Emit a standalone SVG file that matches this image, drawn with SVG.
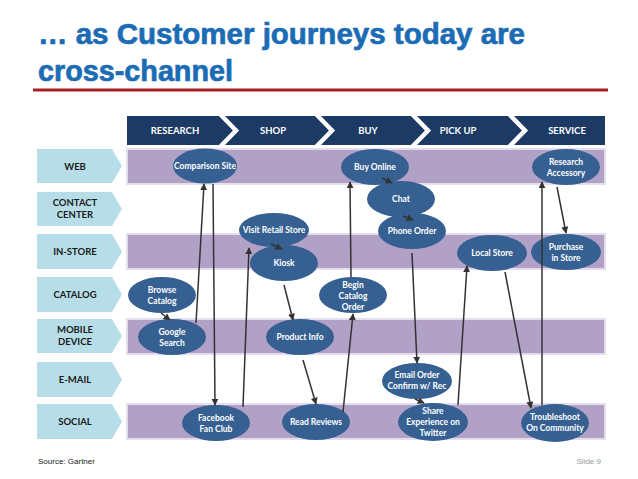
<svg xmlns="http://www.w3.org/2000/svg" width="638" height="479" viewBox="0 0 638 479">
<style>
.title{font-family:"Liberation Sans",Arial,sans-serif;font-weight:700;font-size:30px;fill:#1B6CB5;stroke:#1B6CB5;stroke-width:0.7}
.hdr{font-family:Lato,"Liberation Sans",sans-serif;font-weight:700;font-size:9.5px;fill:#fff;text-anchor:middle}
.lbl{fill:#B7DEE8}
.lbt{font-family:Lato,"Liberation Sans",sans-serif;font-weight:700;font-size:9.5px;fill:#1a1a1a;text-anchor:middle}
.band{fill:#B2A1C7;stroke:#E4DEEC;stroke-width:2}
.node ellipse{fill:#366092}
.node text{font-family:Lato,"Liberation Sans",sans-serif;font-weight:700;font-size:8.5px;fill:#fff;text-anchor:middle}
.conn line{stroke:#333;stroke-width:1.5;marker-end:url(#ah)}
.foot{font-family:"Liberation Sans",Arial,sans-serif;font-size:8px}
</style>
<defs>
<marker id="ah" viewBox="0 0 10 10" refX="9" refY="5" markerWidth="7" markerHeight="7" markerUnits="userSpaceOnUse" orient="auto">
<path d="M0,0 L10,5 L0,10 z" fill="#333"/>
</marker>
</defs>
<rect width="638" height="479" fill="#fff"/>
<g id="title">
<text class="title" x="38" y="44" textLength="487" lengthAdjust="spacingAndGlyphs">… as Customer journeys today are</text>
<text class="title" x="38" y="81" textLength="195" lengthAdjust="spacingAndGlyphs">cross-channel</text>
<rect x="33" y="88.5" width="575" height="3" fill="#A51E22"/>
</g>
<g id="header">
<rect x="127" y="116" width="478" height="29" fill="#1C3A64"/>
<polyline points="220,114 236,130.5 220,147" fill="none" stroke="#fff" stroke-width="4.5"/>
<polyline points="316,114 332,130.5 316,147" fill="none" stroke="#fff" stroke-width="4.5"/>
<polyline points="412,114 428,130.5 412,147" fill="none" stroke="#fff" stroke-width="4.5"/>
<polyline points="509,114 525,130.5 509,147" fill="none" stroke="#fff" stroke-width="4.5"/>
<text class="hdr" x="175" y="134">RESEARCH</text>
<text class="hdr" x="273" y="134">SHOP</text>
<text class="hdr" x="368" y="134">BUY</text>
<text class="hdr" x="458" y="134">PICK UP</text>
<text class="hdr" x="567" y="134">SERVICE</text>
</g>
<g id="bands">
<rect class="band" x="127" y="149" width="478" height="35"/>
<rect class="band" x="127" y="234" width="478" height="35"/>
<rect class="band" x="127" y="319" width="478" height="35"/>
<rect class="band" x="127" y="404" width="478" height="35"/>
</g>
<g id="lbl-web"><polygon class="lbl" points="37,149 112,149 122,166 112,183 37,183"/><text class="lbt" x="75" y="170">WEB</text></g>
<g id="lbl-contact"><polygon class="lbl" points="37,192 112,192 122,209 112,226 37,226"/><text class="lbt" x="75" y="206">CONTACT</text><text class="lbt" x="75" y="218">CENTER</text></g>
<g id="lbl-instore"><polygon class="lbl" points="37,234 112,234 122,251.5 112,269 37,269"/><text class="lbt" x="75" y="255">IN-STORE</text></g>
<g id="lbl-catalog"><polygon class="lbl" points="37,277 112,277 122,294.5 112,312 37,312"/><text class="lbt" x="75" y="298">CATALOG</text></g>
<g id="lbl-mobile"><polygon class="lbl" points="37,319 112,319 122,336 112,353 37,353"/><text class="lbt" x="75" y="333">MOBILE</text><text class="lbt" x="75" y="345">DEVICE</text></g>
<g id="lbl-email"><polygon class="lbl" points="37,362 112,362 122,379.5 112,397 37,397"/><text class="lbt" x="75" y="383">E-MAIL</text></g>
<g id="lbl-social"><polygon class="lbl" points="37,404 112,404 122,421.5 112,439 37,439"/><text class="lbt" x="75" y="425">SOCIAL</text></g>

<g class="node" id="n-comparison"><ellipse cx="205" cy="166" rx="32" ry="17.5"/><text x="205" y="169">Comparison Site</text></g>
<g class="node" id="n-buyonline"><ellipse cx="375" cy="167" rx="34" ry="18"/><text x="375" y="170">Buy Online</text></g>
<g class="node" id="n-chat"><ellipse cx="401" cy="199" rx="34" ry="18"/><text x="401" y="202">Chat</text></g>
<g class="node" id="n-phone"><ellipse cx="412" cy="231" rx="34" ry="18"/><text x="412" y="234">Phone Order</text></g>
<g class="node" id="n-visit"><ellipse cx="274" cy="230" rx="35" ry="17"/><text x="274" y="233">Visit Retail Store</text></g>
<g class="node" id="n-kiosk"><ellipse cx="284" cy="263" rx="34" ry="18"/><text x="284" y="266">Kiosk</text></g>
<g class="node" id="n-begin"><ellipse cx="353" cy="295" rx="34" ry="18"/><text x="353" y="288">Begin</text><text x="353" y="299">Catalog</text><text x="353" y="310">Order</text></g>
<g class="node" id="n-product"><ellipse cx="300" cy="337" rx="34" ry="18"/><text x="300" y="340">Product Info</text></g>
<g class="node" id="n-browse"><ellipse cx="162" cy="295" rx="34" ry="18"/><text x="162" y="293">Browse</text><text x="162" y="304">Catalog</text></g>
<g class="node" id="n-google"><ellipse cx="172" cy="337" rx="34" ry="18"/><text x="172" y="335">Google</text><text x="172" y="346">Search</text></g>
<g class="node" id="n-facebook"><ellipse cx="216" cy="423" rx="34" ry="18"/><text x="216" y="421">Facebook</text><text x="216" y="432">Fan Club</text></g>
<g class="node" id="n-reviews"><ellipse cx="316" cy="422" rx="34" ry="18"/><text x="316" y="425">Read Reviews</text></g>
<g class="node" id="n-email"><ellipse cx="417" cy="381" rx="35" ry="18"/><text x="417" y="378">Email Order</text><text x="417" y="389">Confirm w/ Rec</text></g>
<g class="node" id="n-share"><ellipse cx="433" cy="422" rx="35" ry="19"/><text x="433" y="414">Share</text><text x="433" y="425">Experience on</text><text x="433" y="436">Twitter</text></g>
<g class="node" id="n-trouble"><ellipse cx="555" cy="423" rx="34" ry="19"/><text x="555" y="420">Troubleshoot</text><text x="555" y="431">On Community</text></g>
<g class="node" id="n-local"><ellipse cx="492" cy="253" rx="35" ry="18"/><text x="492" y="256">Local Store</text></g>
<g class="node" id="n-purchase"><ellipse cx="566" cy="252" rx="35" ry="18"/><text x="566" y="250">Purchase</text><text x="566" y="261">in Store</text></g>
<g class="node" id="n-research"><ellipse cx="566" cy="167" rx="34" ry="18"/><text x="566" y="165">Research</text><text x="566" y="176">Accessory</text></g>

<g class="conn" id="connectors">
<line x1="161" y1="313" x2="170" y2="320"/>
<line x1="196" y1="323" x2="204" y2="184"/>
<line x1="213" y1="184" x2="215" y2="405"/>
<line x1="243" y1="407" x2="249" y2="248"/>
<line x1="271" y1="244" x2="282" y2="249"/>
<line x1="284" y1="285" x2="293" y2="320"/>
<line x1="303" y1="360" x2="316" y2="404"/>
<line x1="343" y1="412" x2="353" y2="314"/>
<line x1="351" y1="277" x2="350" y2="182"/>
<line x1="382" y1="178" x2="392" y2="183"/>
<line x1="403" y1="216" x2="413" y2="220"/>
<line x1="412" y1="253" x2="417" y2="363"/>
<line x1="415" y1="399" x2="424" y2="403"/>
<line x1="458" y1="405" x2="467" y2="266"/>
<line x1="505" y1="272" x2="531" y2="408"/>
<line x1="542" y1="405" x2="542" y2="182"/>
<line x1="557" y1="187" x2="566" y2="233"/>
</g>

<g id="footer">
<text class="foot" x="38" y="464" fill="#222">Source: Gartner</text>
<text class="foot" x="601" y="464" fill="#999" text-anchor="end">Slide 9</text>
</g>
</svg>
